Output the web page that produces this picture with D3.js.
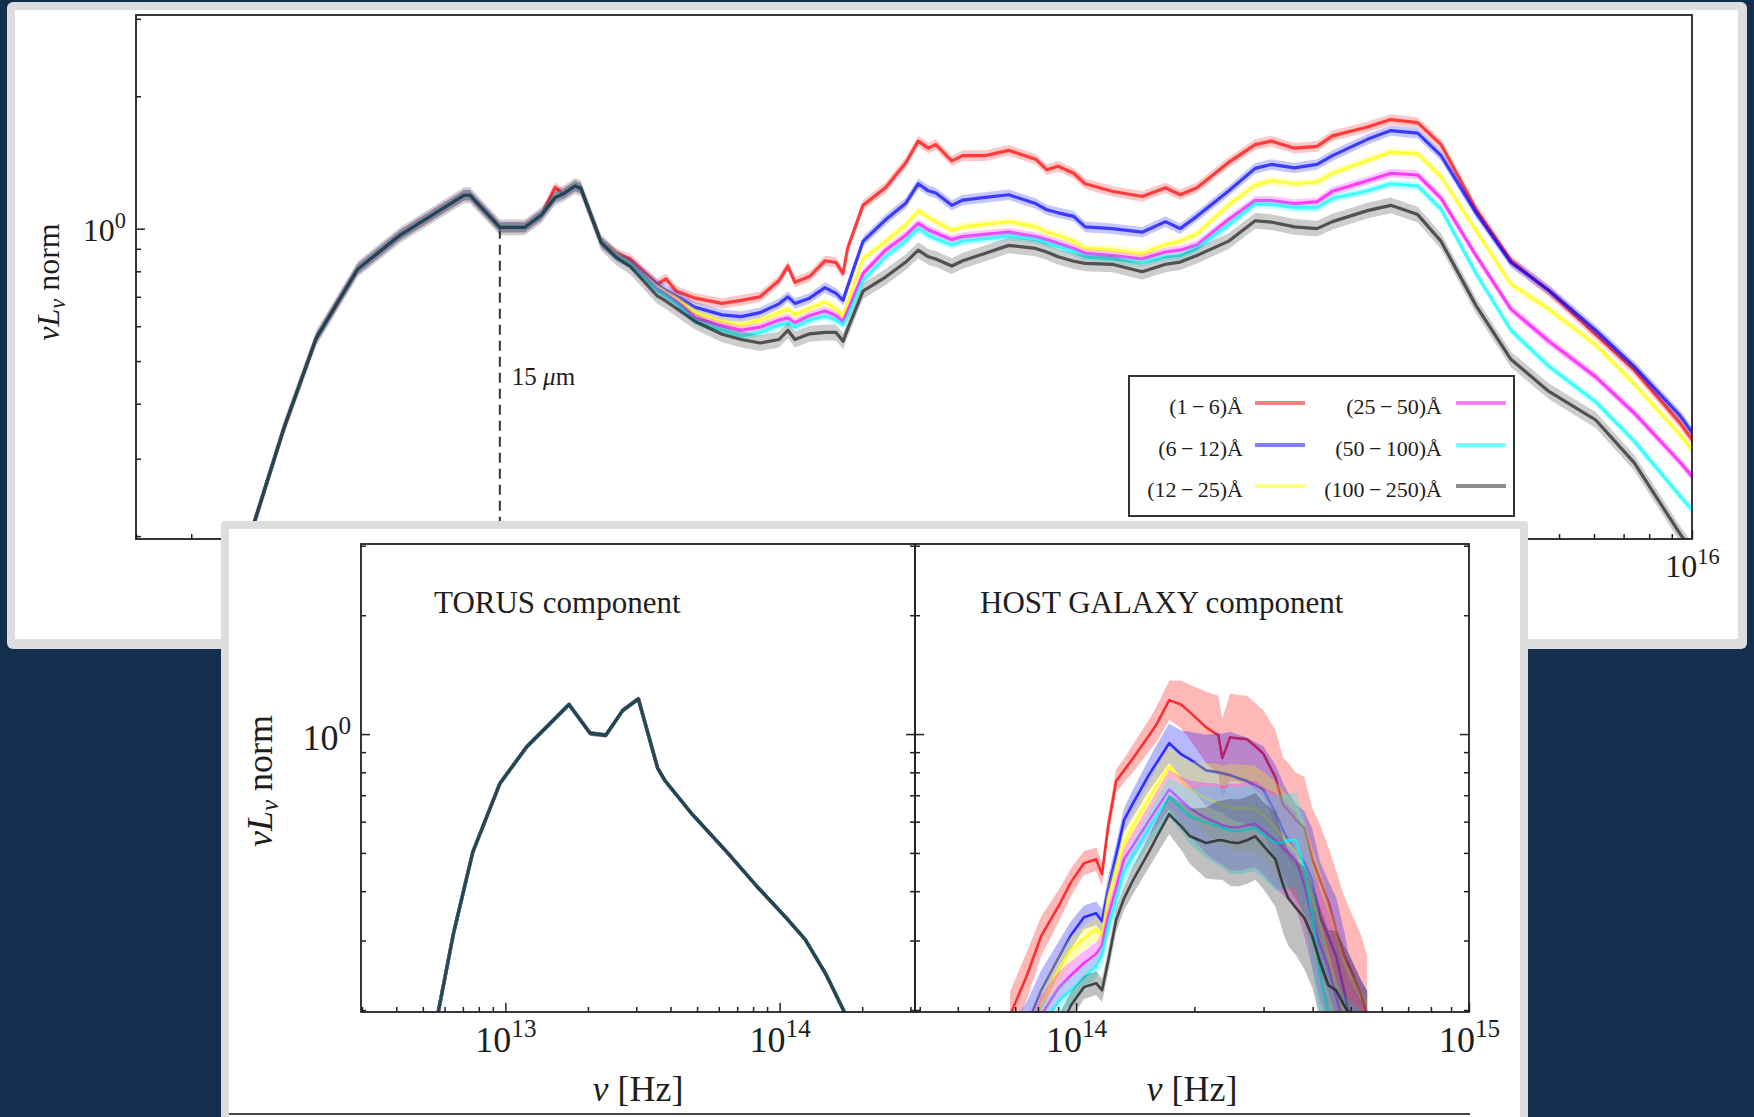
<!DOCTYPE html>
<html>
<head>
<meta charset="utf-8">
<script src="https://cdn.jsdelivr.net/npm/d3@7"></script>
<style>
  body { margin: 0; background: #142f4e; }
  svg { display: block; }
  text { font-family: "Liberation Serif", "Times New Roman", serif; fill: #1e1e1e; }
</style>
</head>
<body>
<svg id="fig" width="1754" height="1117"></svg>
<script>
// ---- series meta ----
const seriesNames = ["(1\u2009\u2212\u20096)\u00c5", "(6\u2009\u2212\u200912)\u00c5", "(12\u2009\u2212\u200925)\u00c5",
                     "(25\u2009\u2212\u200950)\u00c5", "(50\u2009\u2212\u2009100)\u00c5", "(100\u2009\u2212\u2009250)\u00c5"];
const seriesColors = ["#ff0000", "#0000ff", "#ffff00", "#ff00ff", "#00ffff", "#1c1c1c"];

// ---- top panel: total SED (log10 nu [Hz], log10 nuLnu norm) ----
const topLogNu = [12.713, 12.746, 12.812, 12.885, 12.979, 13.076, 13.167, 13.220, 13.233, 13.301, 13.357, 13.395,
  13.426, 13.444, 13.471, 13.484, 13.530, 13.565, 13.596, 13.657, 13.677, 13.700, 13.743, 13.804, 13.847, 13.890,
  13.933, 13.953, 13.969, 14.002, 14.037, 14.062, 14.078, 14.088, 14.123, 14.174, 14.220, 14.248, 14.271, 14.288,
  14.324, 14.349, 14.400, 14.453, 14.514, 14.539, 14.565, 14.600, 14.626, 14.687, 14.755, 14.808, 14.841, 14.879,
  14.950, 15.011, 15.047, 15.100, 15.151, 15.186, 15.265, 15.318, 15.379, 15.432, 15.511, 15.590, 15.676, 15.782,
  15.869, 15.973, 16.006];

const topRed = [-0.773, -0.664, -0.453, -0.249, -0.092, -0.014, 0.043, 0.076, 0.076, 0.003, 0.003, 0.031, 0.094, 0.079, 0.097, 0.092, -0.031,
  -0.057, -0.069, -0.126, -0.114, -0.142, -0.158, -0.170, -0.163, -0.155, -0.118, -0.085, -0.122, -0.109, -0.073, -0.077, -0.102,
  -0.045, 0.053, 0.093, 0.150, 0.199, 0.183, 0.191, 0.154, 0.166, 0.166, 0.178, 0.158, 0.134, 0.142, 0.126, 0.102, 0.085, 0.073,
  0.093, 0.077, 0.093, 0.150, 0.191, 0.199, 0.183, 0.187, 0.211, 0.231, 0.248, 0.241, 0.191, 0.044, -0.073, -0.142, -0.240, -0.321,
  -0.442, -0.488];
const topBlue = [-0.773, -0.664, -0.453, -0.249, -0.092, -0.014, 0.043, 0.076, 0.076, 0.003, 0.003, 0.031, 0.071, 0.079, 0.097, 0.092, -0.031,
  -0.061, -0.077, -0.127, -0.140, -0.153, -0.179, -0.196, -0.200, -0.191, -0.171, -0.155, -0.170, -0.158, -0.134, -0.147, -0.163,
  -0.132, -0.029, 0.020, 0.058, 0.102, 0.086, 0.081, 0.053, 0.065, 0.071, 0.077, 0.057, 0.043, 0.036, 0.028, 0.004, 0.000, -0.008,
  0.016, 0.000, 0.028, 0.085, 0.137, 0.146, 0.138, 0.146, 0.166, 0.203, 0.223, 0.217, 0.166, 0.036, -0.077, -0.140, -0.231, -0.313,
  -0.425, -0.471];
const topYellow = [-0.773, -0.664, -0.453, -0.249, -0.092, -0.014, 0.043, 0.076, 0.076, 0.003, 0.003, 0.031, 0.071, 0.079, 0.097, 0.092, -0.031,
  -0.061, -0.079, -0.132, -0.145, -0.158, -0.191, -0.211, -0.219, -0.208, -0.191, -0.183, -0.196, -0.181, -0.167, -0.183, -0.199,
  -0.168, -0.069, -0.029, 0.008, 0.041, 0.025, 0.016, -0.004, 0.004, 0.010, 0.016, 0.004, -0.008, -0.015, -0.029, -0.045, -0.048, -0.057,
  -0.036, -0.029, -0.012, 0.053, 0.099, 0.109, 0.102, 0.106, 0.126, 0.155, 0.174, 0.170, 0.118, -0.004, -0.126, -0.183, -0.264, -0.353,
  -0.468, -0.511];
const topMagenta = [-0.773, -0.664, -0.453, -0.249, -0.092, -0.014, 0.043, 0.076, 0.076, 0.003, 0.003, 0.031, 0.071, 0.079, 0.097, 0.092, -0.031,
  -0.064, -0.081, -0.137, -0.150, -0.165, -0.203, -0.221, -0.231, -0.224, -0.208, -0.203, -0.214, -0.198, -0.187, -0.198, -0.211,
  -0.188, -0.102, -0.049, -0.015, 0.012, -0.003, -0.010, -0.025, -0.018, -0.013, -0.008, -0.018, -0.025, -0.033, -0.045, -0.056, -0.061, -0.069,
  -0.053, -0.049, -0.037, 0.020, 0.064, 0.064, 0.057, 0.061, 0.085, 0.109, 0.126, 0.122, 0.069, -0.061, -0.183, -0.256, -0.337, -0.419,
  -0.531, -0.570];
const topCyan = [-0.773, -0.664, -0.453, -0.249, -0.092, -0.014, 0.043, 0.076, 0.076, 0.003, 0.003, 0.031, 0.071, 0.079, 0.097, 0.092, -0.031,
  -0.064, -0.083, -0.140, -0.153, -0.170, -0.211, -0.231, -0.244, -0.236, -0.219, -0.215, -0.224, -0.208, -0.199, -0.208, -0.219,
  -0.201, -0.118, -0.064, -0.028, 0.000, -0.015, -0.023, -0.037, -0.028, -0.023, -0.017, -0.025, -0.033, -0.041, -0.053, -0.064, -0.069, -0.077,
  -0.064, -0.061, -0.045, 0.008, 0.056, 0.055, 0.048, 0.048, 0.069, 0.086, 0.102, 0.097, 0.044, -0.102, -0.231, -0.313, -0.394, -0.483,
  -0.608, -0.646];
const topBlack = [-0.773, -0.664, -0.453, -0.249, -0.092, -0.014, 0.043, 0.076, 0.076, 0.003, 0.003, 0.031, 0.071, 0.079, 0.097, 0.092, -0.031,
  -0.066, -0.086, -0.153, -0.165, -0.181, -0.211, -0.240, -0.252, -0.260, -0.252, -0.231, -0.252, -0.239, -0.236, -0.236, -0.256,
  -0.229, -0.142, -0.110, -0.076, -0.049, -0.064, -0.069, -0.085, -0.073, -0.056, -0.038, -0.045, -0.053, -0.064, -0.074, -0.079, -0.081, -0.098,
  -0.081, -0.076, -0.061, -0.029, 0.018, 0.015, 0.004, 0.000, 0.016, 0.041, 0.053, 0.032, -0.029, -0.175, -0.297, -0.370, -0.435, -0.532,
  -0.694, -0.740];
// half width of the shaded band of each series (dex)
const topBand = [0.012, 0.012, 0.010, 0.010, 0.010, 0.018];

// ---- torus component (all bins overlap) ----
const torusLogNu = [12.740, 12.758, 12.811, 12.881, 12.980, 13.078, 13.162, 13.232, 13.309, 13.366, 13.428, 13.485,
  13.555, 13.583, 13.681, 13.808, 13.920, 14.025, 14.094, 14.167, 14.236, 14.260];
const torusLogL = [-0.760, -0.694, -0.504, -0.299, -0.125, -0.032, 0.026, 0.075, 0.002, -0.003, 0.060, 0.089,
  -0.086, -0.119, -0.203, -0.299, -0.388, -0.466, -0.521, -0.606, -0.704, -0.740];

// ---- host galaxy component ----
const hostLogNu = [13.832, 13.875, 13.911, 13.957, 13.987, 14.020, 14.051, 14.066, 14.081, 14.102, 14.122, 14.145,
  14.186, 14.206, 14.237, 14.267, 14.290, 14.331, 14.362, 14.372, 14.392, 14.413, 14.435, 14.456, 14.476, 14.507,
  14.527, 14.540, 14.560, 14.581, 14.601, 14.621, 14.642, 14.662, 14.682, 14.693, 14.726, 14.741];
const hostRed = [-0.712, -0.611, -0.512, -0.433, -0.375, -0.327, -0.317, -0.355, -0.238, -0.119, -0.092, -0.061,
  -0.003, 0.027, 0.086, 0.075, 0.055, 0.017, -0.003, -0.061, -0.008, -0.011, -0.013, -0.031, -0.049, -0.109,
  -0.180, -0.193, -0.218, -0.238, -0.317, -0.370, -0.426, -0.497, -0.560, -0.585, -0.661, -0.712];
const hostBlue = [-0.800, -0.737, -0.649, -0.563, -0.509, -0.464, -0.454, -0.474, -0.395, -0.307, -0.218, -0.175,
  -0.102, -0.071, -0.023, -0.051, -0.064, -0.092, -0.097, -0.099, -0.104, -0.112, -0.119, -0.130, -0.140, -0.198,
  -0.244, -0.269, -0.299, -0.325, -0.370, -0.464, -0.512, -0.563, -0.649, -0.704, -0.775, -0.800];
const hostYellow = [-0.826, -0.788, -0.687, -0.593, -0.547, -0.517, -0.494, -0.512, -0.416, -0.345, -0.276, -0.233,
  -0.163, -0.130, -0.082, -0.117, -0.140, -0.163, -0.175, -0.180, -0.185, -0.188, -0.188, -0.190, -0.206, -0.238,
  -0.264, -0.276, -0.299, -0.350, -0.416, -0.484, -0.563, -0.636, -0.704, -0.737, -0.800, -0.826];
const hostMagenta = [-0.851, -0.800, -0.712, -0.641, -0.611, -0.580, -0.557, -0.535, -0.464, -0.390, -0.317, -0.282,
  -0.218, -0.188, -0.140, -0.168, -0.188, -0.213, -0.226, -0.231, -0.236, -0.236, -0.231, -0.228, -0.244, -0.269,
  -0.289, -0.299, -0.319, -0.383, -0.464, -0.535, -0.590, -0.666, -0.737, -0.763, -0.826, -0.851];
const hostCyan = [-0.864, -0.826, -0.737, -0.674, -0.649, -0.616, -0.588, -0.560, -0.494, -0.421, -0.347, -0.307,
  -0.238, -0.206, -0.160, -0.188, -0.208, -0.223, -0.233, -0.238, -0.244, -0.246, -0.241, -0.238, -0.254, -0.276,
  -0.274, -0.269, -0.269, -0.345, -0.459, -0.611, -0.704, -0.775, -0.813, -0.826, -0.851, -0.876];
const hostBlack = [-0.902, -0.876, -0.826, -0.750, -0.687, -0.641, -0.631, -0.649, -0.578, -0.471, -0.416, -0.370,
  -0.297, -0.259, -0.203, -0.233, -0.259, -0.276, -0.269, -0.269, -0.274, -0.276, -0.269, -0.259, -0.282, -0.317,
  -0.383, -0.416, -0.441, -0.466, -0.512, -0.578, -0.636, -0.649, -0.687, -0.704, -0.775, -0.800];
const hostSpread = [0.06, 0.06, 0.05, 0.04, 0.035, 0.03, 0.03, 0.03, 0.03, 0.03, 0.03, 0.035,
  0.04, 0.045, 0.05, 0.06, 0.07, 0.09, 0.10, 0.10, 0.11, 0.11, 0.11, 0.11, 0.11, 0.12,
  0.12, 0.12, 0.12, 0.13, 0.13, 0.14, 0.14, 0.15, 0.15, 0.15, 0.15, 0.15];

// tick values
const topXMajor = [1e13, 1e14, 1e15, 1e16];
const torusXMajor = [1e13, 1e14];
const hostXMajor = [1e14, 1e15];
const yMajor = [1];
const markerWavelength = 15e-6; // m, dashed line
const speedOfLight = 2.998e8;

const topSeries = [topRed, topBlue, topYellow, topMagenta, topCyan, topBlack];
const hostSeries = [hostRed, hostBlue, hostYellow, hostMagenta, hostCyan, hostBlack];

let svg = d3.select("#fig");
const serif = '"Liberation Serif", "Times New Roman", serif';

// minor log ticks 2..9 x 10^e inside domain
function minorTicks(domain) {
  let out = [];
  let lo = Math.floor(Math.log10(domain[0])), hi = Math.ceil(Math.log10(domain[1]));
  for (let e = lo; e <= hi; e++) {
    for (let k = 2; k <= 9; k++) {
      let v = k * Math.pow(10, e);
      if (v >= domain[0] && v <= domain[1]) out.push(v);
    }
  }
  return out;
}

function styleAxis(a) {
  a.select(".domain").remove();
  a.selectAll(".tick line").attr("stroke", "#222").attr("stroke-width", 1.5);
}

function powLabel(sel, fs) {
  sel.each(function(d) {
    let t = d3.select(this);
    t.text(null).attr("font-size", fs).attr("font-family", serif).attr("fill", "#1e1e1e");
    t.append("tspan").text("10");
    t.append("tspan").attr("font-size", "0.7em").attr("dy", "-0.6em").text(Math.round(Math.log10(d)));
  });
}

function xAxis(g, x, h, majors, fs, base) {
  let a1 = g.append("g").attr("transform", `translate(0,${h})`)
    .call(d3.axisBottom(x).tickValues(minorTicks(x.domain())).tickSize(-5).tickFormat(""));
  styleAxis(a1);
  let a2 = g.append("g").attr("transform", `translate(0,${h})`)
    .call(d3.axisBottom(x).tickValues(majors).tickSize(-9).tickFormat(""));
  styleAxis(a2);
  a2.selectAll(".tick text").attr("y", base).attr("dy", null).call(powLabel, fs);
}

function yAxis(g, y, xpos, inward, majors, fs, base, labels) {
  let a1 = g.append("g").attr("transform", `translate(${xpos},0)`)
    .call(d3.axisLeft(y).tickValues(minorTicks(y.domain())).tickSize(-5 * inward).tickFormat(""));
  styleAxis(a1);
  let a2 = g.append("g").attr("transform", `translate(${xpos},0)`)
    .call(d3.axisLeft(y).tickValues(majors).tickSize(-9 * inward).tickFormat(""));
  styleAxis(a2);
  if (labels) {
    a2.selectAll(".tick text").attr("x", -10).attr("y", base).attr("dy", null)
      .attr("text-anchor", "end").call(powLabel, fs);
  } else {
    a2.selectAll(".tick text").remove();
  }
}

function drawSeries(g, x, y, logNu, logL, color, spread, lineOpacity, bandOpacity, width) {
  let pts = logNu.map((n, i) => ({
    nu: Math.pow(10, n),
    v: Math.pow(10, logL[i]),
    s: Array.isArray(spread) ? spread[i] : spread
  }));
  if (bandOpacity > 0) {
    g.append("path")
      .attr("d", d3.area().x(d => x(d.nu)).y0(d => y(d.v / Math.pow(10, d.s))).y1(d => y(d.v * Math.pow(10, d.s)))(pts))
      .attr("fill", color).attr("fill-opacity", bandOpacity).attr("stroke", "none");
  }
  g.append("path")
    .attr("d", d3.line().x(d => x(d.nu)).y(d => y(d.v))(pts))
    .attr("fill", "none").attr("stroke", color).attr("stroke-opacity", lineOpacity)
    .attr("stroke-width", width).attr("stroke-linejoin", "round");
}

function clipFor(id, l, t, w, h) {
  svg.append("clipPath").attr("id", id).append("rect").attr("x", l).attr("y", t).attr("width", w).attr("height", h);
}

// ---- top card ----
svg.append("rect").attr("x", 7).attr("y", 2).attr("width", 1740).attr("height", 647).attr("rx", 6).attr("fill", "#dddddd");
svg.append("rect").attr("x", 15).attr("y", 10).attr("width", 1723).attr("height", 629).attr("fill", "#ffffff");

let topBox = { left: 136, right: 1692, top: 15, bottom: 539 };
let xTop = d3.scaleLog().domain([Math.pow(10, 12.477), 1e16]).range([topBox.left, topBox.right]);
let yTop = d3.scaleLog().domain([0.197, 3.06]).range([topBox.bottom, topBox.top]);
clipFor("clipTop", topBox.left, topBox.top, topBox.right - topBox.left, topBox.bottom - topBox.top);

let gTop = svg.append("g");
let gTopData = gTop.append("g").attr("clip-path", "url(#clipTop)");

// dashed line at 15 micron
let nuMarker = speedOfLight / markerWavelength;
gTopData.append("line")
  .attr("x1", xTop(nuMarker)).attr("x2", xTop(nuMarker))
  .attr("y1", yTop(1.0)).attr("y2", topBox.bottom)
  .attr("stroke", "#333").attr("stroke-width", 2).attr("stroke-dasharray", "10,6");

topSeries.forEach((s, i) => drawSeries(gTopData, xTop, yTop, topLogNu, s, seriesColors[i], topBand[i], 0.7, 0.22, 3.2));

gTop.append("rect").attr("x", topBox.left).attr("y", topBox.top)
  .attr("width", topBox.right - topBox.left).attr("height", topBox.bottom - topBox.top)
  .attr("fill", "none").attr("stroke", "#222").attr("stroke-width", 1.8);
xAxis(gTop, xTop, topBox.bottom, topXMajor, 32, 38);
yAxis(gTop, yTop, topBox.left, 1, yMajor, 32, 12, true);

gTop.append("text").attr("x", xTop(nuMarker) + 12).attr("y", 385).attr("font-size", 25)
  .call(t => { t.append("tspan").text("15 "); t.append("tspan").attr("font-style", "italic").text("\u03bc"); t.append("tspan").text("m"); });

function yLabel(g, cx, cy, fs) {
  let t = g.append("text").attr("transform", `translate(${cx},${cy}) rotate(-90)`)
    .attr("text-anchor", "middle").attr("font-size", fs);
  t.append("tspan").attr("font-style", "italic").text("\u03bdL");
  t.append("tspan").attr("font-style", "italic").attr("font-size", "0.7em").attr("dy", "0.25em").text("\u03bd");
  t.append("tspan").attr("dy", "-0.175em").text(" norm");
}
yLabel(gTop, 59, 282, 32);

// legend
let leg = gTop.append("g");
leg.append("rect").attr("x", 1129).attr("y", 376).attr("width", 385).attr("height", 140)
  .attr("fill", "#fff").attr("stroke", "#333").attr("stroke-width", 2);
const legCols = [{ tx: 1243, lx: 1255 }, { tx: 1442, lx: 1456 }];
const legRows = [414, 456, 497];
seriesNames.forEach((name, i) => {
  let c = legCols[Math.floor(i / 3)], r = legRows[i % 3];
  leg.append("text").attr("x", c.tx).attr("y", r).attr("text-anchor", "end").attr("font-size", 22).text(name);
  leg.append("line").attr("x1", c.lx).attr("x2", c.lx + 50).attr("y1", r - 11).attr("y2", r - 11)
    .attr("stroke", seriesColors[i]).attr("stroke-opacity", 0.5).attr("stroke-width", 4);
});

// ---- inset card ----
svg.append("rect").attr("x", 221).attr("y", 521).attr("width", 1307).attr("height", 620).attr("rx", 4).attr("fill", "#dddddd");
svg.append("rect").attr("x", 229).attr("y", 529).attr("width", 1291).attr("height", 620).attr("fill", "#ffffff");
svg.append("line").attr("x1", 229).attr("x2", 1470).attr("y1", 1114).attr("y2", 1114).attr("stroke", "#444").attr("stroke-width", 2);

let bot = { top: 544, bottom: 1012 };
let leftP = { left: 361, right: 915 };
let rightP = { left: 915, right: 1469 };
let yBot = d3.scaleLog().domain([0.1977, 3.03]).range([bot.bottom, bot.top]);
let xTorus = d3.scaleLog().domain([Math.pow(10, 12.4735), Math.pow(10, 14.4936)]).range([leftP.left, leftP.right]);
let xHost = d3.scaleLog().domain([Math.pow(10, 13.59), 1e15]).range([rightP.left, rightP.right]);
clipFor("clipTorus", leftP.left, bot.top, leftP.right - leftP.left, bot.bottom - bot.top);
clipFor("clipHost", rightP.left, bot.top, rightP.right - rightP.left, bot.bottom - bot.top);

let gBot = svg.append("g");
let gTorus = gBot.append("g").attr("clip-path", "url(#clipTorus)");
seriesColors.forEach((c, i) => drawSeries(gTorus, xTorus, yBot, torusLogNu, torusLogL, c, 0.006, 0.7, 0.2, 3.4));

let gHost = gBot.append("g").attr("clip-path", "url(#clipHost)");
hostSeries.forEach((s, i) => drawSeries(gHost, xHost, yBot, hostLogNu, s, seriesColors[i], hostSpread, 0.75, 0.28, 2.6));

[leftP, rightP].forEach(p => {
  gBot.append("rect").attr("x", p.left).attr("y", bot.top).attr("width", p.right - p.left).attr("height", bot.bottom - bot.top)
    .attr("fill", "none").attr("stroke", "#222").attr("stroke-width", 1.8);
});
xAxis(gBot, xTorus, bot.bottom, torusXMajor, 36, 40);
xAxis(gBot, xHost, bot.bottom, hostXMajor, 36, 40);
yAxis(gBot, yBot, leftP.left, 1, yMajor, 36, 15, true);
yAxis(gBot, yBot, leftP.right, -1, yMajor, 36, 15, false);
yAxis(gBot, yBot, rightP.left, 1, yMajor, 36, 15, false);
yAxis(gBot, yBot, rightP.right, -1, yMajor, 36, 15, false);

gBot.append("text").attr("x", 434).attr("y", 613).attr("font-size", 31).text("TORUS component");
gBot.append("text").attr("x", 980).attr("y", 613).attr("font-size", 31).text("HOST GALAXY component");
yLabel(gBot, 272, 781, 36);

[leftP, rightP].forEach(p => {
  let t = gBot.append("text").attr("x", (p.left + p.right) / 2).attr("y", 1101).attr("text-anchor", "middle").attr("font-size", 36);
  t.append("tspan").attr("font-style", "italic").text("\u03bd");
  t.append("tspan").text(" [Hz]");
});
</script>
</body>
</html>
